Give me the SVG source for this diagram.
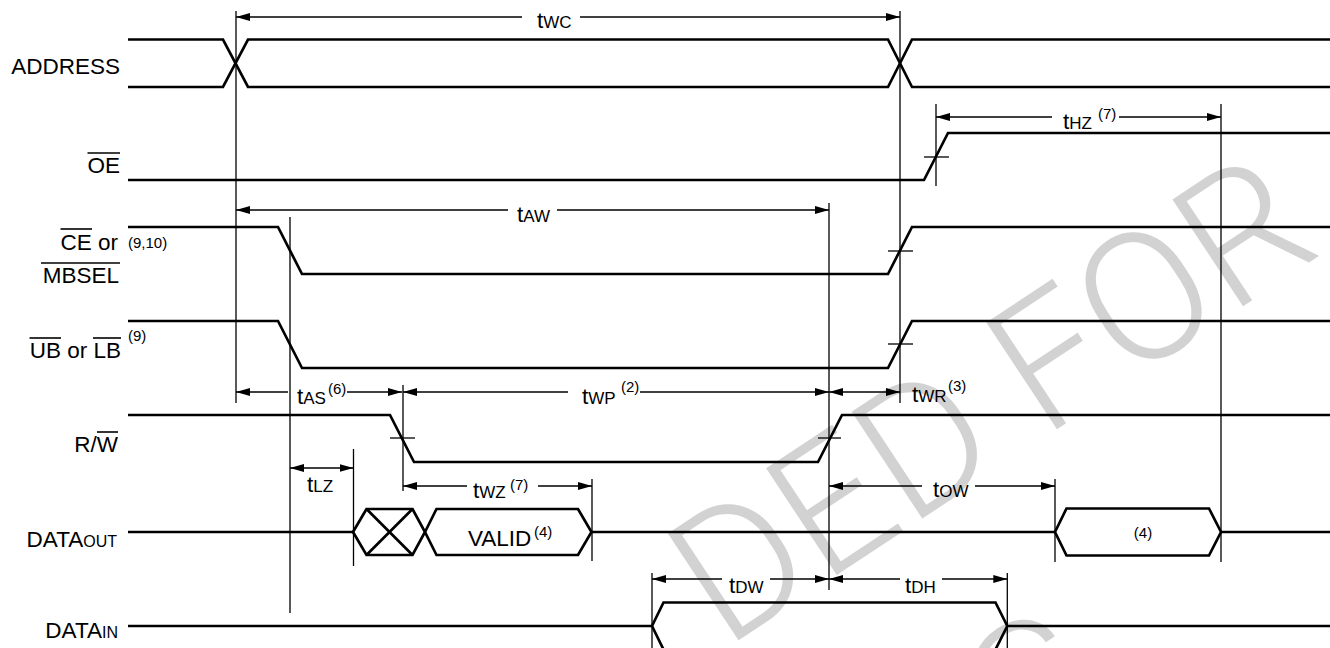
<svg xmlns="http://www.w3.org/2000/svg" width="1330" height="648" viewBox="0 0 1330 648">
<style>
text{font-family:"Liberation Sans",Arial,sans-serif;fill:#000}
.lbl{font-size:22.5px;text-anchor:end}
.tm{font-size:22.5px}
.sc{font-size:17px}
.sup{font-size:15px}
.sig{fill:none;stroke:#000;stroke-width:2.7;stroke-linejoin:miter}
.thin{fill:none;stroke:#000;stroke-width:1.3}
.ov{stroke:#000;stroke-width:1.6}
.wm{font-family:Roboto,"Liberation Sans",sans-serif;font-weight:300;font-size:180px;fill:#d2d2d2}
.as{marker-start:url(#ah)}
.ae{marker-end:url(#ah)}
</style>
<defs>
<marker id="ah" markerUnits="userSpaceOnUse" markerWidth="15" markerHeight="9" refX="14" refY="4.5" orient="auto-start-reverse" viewBox="0 0 15 9">
<path d="M0,0.5 L14,4.5 L0,8.5 z" fill="#000"/>
</marker>
</defs>
<rect width="1330" height="648" fill="#fff"/>
<g id="watermark">
<text class="wm" x="1325" y="252" text-anchor="end" transform="rotate(-33.5 1325 252)">DED FOR</text>
<text class="wm" x="1112" y="708" text-anchor="end" transform="rotate(-33.5 1112 708)">S</text>
</g>
<g id="labels">
<text class="lbl" x="120" y="74">ADDRESS</text>
<g id="lbl-oe"><text class="lbl" x="120" y="173">OE</text><line class="ov" x1="87.5" y1="153" x2="120" y2="153"/></g>
<g id="lbl-ce"><text class="lbl" x="118" y="250">CE or</text><line class="ov" x1="60.5" y1="229" x2="92" y2="229"/>
<text class="sup" x="128" y="248">(9,10)</text>
<text class="lbl" x="119" y="283">MBSEL</text><line class="ov" x1="41" y1="263" x2="120" y2="263"/></g>
<g id="lbl-ub"><text class="lbl" x="121" y="357.5">UB or LB</text><line class="ov" x1="29.5" y1="338" x2="61" y2="338"/><line class="ov" x1="93" y1="338" x2="121" y2="338"/>
<text class="sup" x="128" y="341">(9)</text></g>
<g id="lbl-rw"><text class="lbl" x="118" y="452">R/W</text><line class="ov" x1="97" y1="432" x2="118" y2="432"/></g>
<text class="lbl" x="117" y="546.5">DATA<tspan style="font-size:16px">OUT</tspan></text>
<text class="lbl" x="118" y="638">DATA<tspan style="font-size:16px">IN</tspan></text>
</g>
<g id="sig-address">
<path class="sig" d="M128,39.5 H223 L248,87 H888 L912,39.5 H1330"/>
<path class="sig" d="M128,87 H223 L248,39.5 H888 L912,87 H1330"/>
</g>
<g id="sig-oe">
<path class="sig" d="M128,180 H924 L948,133 H1330"/>
<line class="thin" x1="924" y1="157" x2="949" y2="157"/>
</g>
<g id="sig-ce">
<path class="sig" d="M128,227 H278 L302,274 H888 L912,227 H1330"/>
<line class="thin" x1="888" y1="251" x2="913" y2="251"/>
</g>
<g id="sig-ub">
<path class="sig" d="M128,321 H278 L302,368 H888 L912,321 H1330"/>
<line class="thin" x1="888" y1="344" x2="913" y2="344"/>
</g>
<g id="sig-rw">
<path class="sig" d="M128,415 H390 L414,462 H818 L842,415 H1330"/>
<line class="thin" x1="390" y1="438" x2="415" y2="438"/>
<line class="thin" x1="818" y1="438" x2="841" y2="438"/>
</g>
<g id="sig-dataout">
<path class="sig" d="M128,532 H353"/>
<path class="sig" d="M353,532 L366.5,509 H412.5 L425,532 L412.5,555 H366.5 Z"/>
<path class="sig" d="M366.5,509 L412.5,555 M366.5,555 L412.5,509"/>
<path class="sig" d="M425,532 L436.5,509 H578 L591.5,532 L578,555 H436.5 Z"/>
<text class="tm" x="468" y="546">VALID</text><text class="sup" x="534" y="537">(4)</text>
<path class="sig" d="M591.5,532 H1055"/>
<path class="sig" d="M1055,532 L1066.5,508.5 H1209 L1221,532 L1209,555.5 H1066.5 Z"/>
<text class="sup" x="1143" y="538" text-anchor="middle">(4)</text>
<path class="sig" d="M1221,532 H1330"/>
</g>
<g id="sig-datain">
<path class="sig" d="M128,626 H652 L663.5,602.5 H995.5 L1007.3,626 H1330"/>
<path class="sig" d="M652,626 L663.5,649.5 H995.5 L1007.3,626"/>
</g>
<g id="connectors">
<line class="thin" x1="236" y1="11" x2="236" y2="403"/>
<line class="thin" x1="900" y1="11" x2="900" y2="403"/>
<line class="thin" x1="290" y1="217" x2="290" y2="613"/>
<line class="thin" x1="829" y1="203" x2="829" y2="590"/>
<line class="thin" x1="936" y1="104" x2="936" y2="186"/>
<line class="thin" x1="1221" y1="104" x2="1221" y2="562"/>
<line class="thin" x1="403" y1="385" x2="403" y2="491"/>
<line class="thin" x1="353.5" y1="449" x2="353.5" y2="566"/>
<line class="thin" x1="592" y1="479" x2="592" y2="561"/>
<line class="thin" x1="1055" y1="479" x2="1055" y2="562"/>
<line class="thin" x1="652" y1="573" x2="652" y2="648"/>
<line class="thin" x1="1007.3" y1="573" x2="1007.3" y2="648"/>
<line class="thin as" x1="236" y1="17" x2="522" y2="17"/><line class="thin ae" x1="580" y1="17" x2="900" y2="17"/>
<line class="thin as" x1="936" y1="117" x2="1052" y2="117"/><line class="thin ae" x1="1119" y1="117" x2="1221" y2="117"/>
<line class="thin as" x1="236" y1="210" x2="508" y2="210"/><line class="thin ae" x1="557" y1="210" x2="829" y2="210"/>
<line class="thin as" x1="236" y1="392" x2="288" y2="392"/><line class="thin ae" x1="347" y1="392" x2="402" y2="392"/>
<line class="thin as" x1="403" y1="392" x2="568" y2="392"/><line class="thin ae" x1="640" y1="392" x2="829" y2="392"/>
<line class="thin as ae" x1="829" y1="392" x2="900" y2="392"/>
<line class="thin as ae" x1="290" y1="468" x2="353.5" y2="468"/>
<line class="thin as" x1="403" y1="486" x2="467" y2="486"/><line class="thin ae" x1="538" y1="486" x2="592" y2="486"/>
<line class="thin as" x1="829" y1="486" x2="922" y2="486"/><line class="thin ae" x1="975" y1="486" x2="1055" y2="486"/>
<line class="thin as" x1="652" y1="579" x2="722" y2="579"/><line class="thin ae" x1="770" y1="579" x2="829" y2="579"/>
<line class="thin as" x1="829" y1="579" x2="900" y2="579"/><line class="thin ae" x1="942" y1="579" x2="1007.3" y2="579"/>
</g>
<g id="timing-labels">
<text class="tm" x="537" y="28">t<tspan class="sc">WC</tspan></text>
<text class="tm" x="1063" y="129">t<tspan class="sc">HZ</tspan></text><text class="sup" x="1098" y="119">(7)</text>
<text class="tm" x="517" y="222">t<tspan class="sc">AW</tspan></text>
<text class="tm" x="297" y="404">t<tspan class="sc">AS</tspan></text><text class="sup" x="328" y="394">(6)</text>
<text class="tm" x="582" y="404">t<tspan class="sc">WP</tspan></text><text class="sup" x="621" y="392">(2)</text>
<text class="tm" x="912" y="402">t<tspan class="sc">WR</tspan></text><text class="sup" x="948" y="391">(3)</text>
<text class="tm" x="307" y="492">t<tspan class="sc">LZ</tspan></text>
<text class="tm" x="473" y="498">t<tspan class="sc">WZ</tspan></text><text class="sup" x="510" y="490">(7)</text>
<text class="tm" x="933" y="497">t<tspan class="sc">OW</tspan></text>
<text class="tm" x="729" y="593">t<tspan class="sc">DW</tspan></text>
<text class="tm" x="905" y="593">t<tspan class="sc">DH</tspan></text>
</g>
</svg>
